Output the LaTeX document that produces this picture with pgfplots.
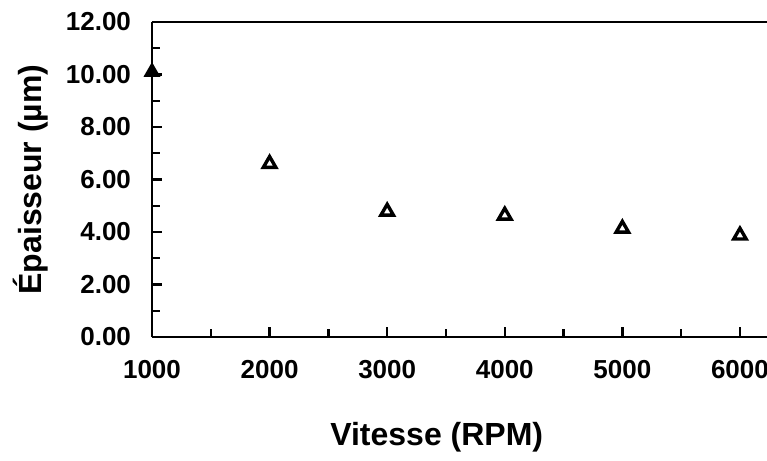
\documentclass[border=0pt]{standalone}
\usepackage{pgfplots}
\pgfplotsset{compat=1.18}
\usepackage{fontspec}
\setmainfont{Liberation Sans}
\begin{document}
\begin{tikzpicture}
\begin{axis}[
  name=ax,
  scale only axis,
  width=307.5pt, height=157.5pt,
  xmin=1000, xmax=6230,
  ymin=0, ymax=12,
  axis x line*=bottom, axis y line*=left,
  axis line style={line width=1.4pt},
  tick align=inside,
  xtick={1000,2000,3000,4000,5000,6000},
  minor xtick={1500,2500,3500,4500,5500},
  ytick={0,2,4,6,8,10,12},
  minor ytick={1,3,5,7,9,11},
  major tick length=5pt, minor tick length=4pt,
  every tick/.style={black, line width=1.2pt},
  /pgf/number format/assume math mode=true,
  xticklabel style={font=\fontsize{13}{15}\selectfont\bfseries, yshift=-8pt},
  yticklabel style={font=\fontsize{13}{15}\selectfont\bfseries, xshift=-7pt,
     /pgf/number format/fixed, /pgf/number format/fixed zerofill, /pgf/number format/precision=2},
  xticklabel={\pgfmathprintnumber[fixed,int detect,1000 sep={}]{\tick}},
  scaled x ticks=false,
  xlabel={Vitesse (RPM)},
  ylabel={Épaisseur (µm)},
  xlabel style={font=\fontsize{16}{18}\selectfont\bfseries, at={(axis description cs:0.463,-0.317)}, anchor=center},
  ylabel style={font=\fontsize{16}{18}\selectfont\bfseries, at={(axis description cs:-0.198,0.5)}, anchor=center},
  clip=false,
]
\addplot[only marks, mark=triangle*, mark size=3.6pt, mark options={fill=black, draw=black, line width=1.3pt}]
  coordinates {(1000,10.1)};
\addplot[only marks, mark=triangle*, mark size=3.6pt, mark options={fill=white, draw=black, line width=1.7pt}]
  coordinates {(2000,6.6) (3000,4.78) (4000,4.63) (5000,4.13) (6000,3.87)};
\draw[line width=1.3pt] (rel axis cs:0,1) -- (rel axis cs:1,1);
\end{axis}
\pgfresetboundingbox
\useasboundingbox ([xshift=-76pt,yshift=-62pt]ax.south west) rectangle ([yshift=11pt]ax.north east);
\end{tikzpicture}
\end{document}
